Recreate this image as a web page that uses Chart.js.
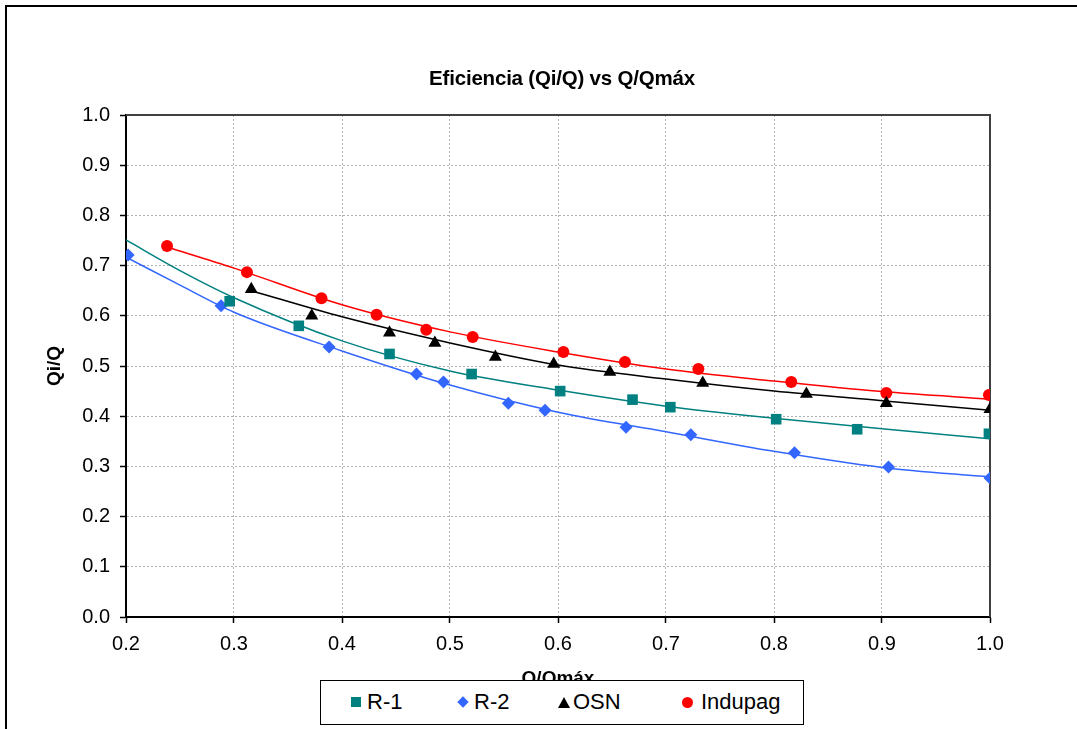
<!DOCTYPE html>
<html>
<head>
<meta charset="utf-8">
<title>Eficiencia (Qi/Q) vs Q/Qmáx</title>
<script src="https://cdn.jsdelivr.net/npm/chart.js@4.4.0/dist/chart.umd.min.js"></script>
<style>
  html, body { margin: 0; padding: 0; background: #fff; overflow: hidden; }
  #wrap { position: relative; width: 1077px; height: 729px; }
  #frame { position: absolute; left: 5px; top: 5px; width: 1200px; height: 1000px; border: 2px solid #000; box-sizing: border-box; }
  #chart { position: absolute; left: 0; top: 0; }
  #title {
    position: absolute; left: 0; top: 66px; width: 1124px; text-align: center;
    font-family: 'Liberation Sans', Arial, sans-serif; font-weight: bold; font-size: 20.5px; line-height: 24px;
    color: #000; letter-spacing: -0.2px;
  }
  #legend {
    position: absolute; left: 320px; top: 680px; width: 484px; height: 45px;
    box-sizing: border-box; border: 1.5px solid #000; background: #fff;
    font-family: 'Liberation Sans', Arial, sans-serif; font-size: 22px; color: #000;
  }
  .item { position: absolute; top: 0; height: 42px; display: flex; align-items: center; white-space: nowrap; }
  .mk { display: inline-block; margin-right: 6px; }
  .mk.rect { width: 10px; height: 10px; }
  .mk.rectRot { width: 8px; height: 8px; transform: rotate(45deg); margin-left: 2px; margin-right: 7px; }
  .mk.triangle { width: 0; height: 0; border-left: 6px solid transparent; border-right: 6px solid transparent; border-bottom: 11px solid #000; background: none !important; margin-right: 3px; }
  .mk.circle { width: 11px; height: 11px; border-radius: 50%; margin-right: 8px; }
</style>
</head>
<body>
<div id="wrap">
  <div id="frame"></div>
  <canvas id="chart" width="1077" height="729"></canvas>
  <div id="title"></div>
  <div id="legend"></div>
</div>
<script>
; (function () {
    'use strict'

    // ── Data ───────────────────────────────────────────────────────────────────
    const chartTitle = 'Eficiencia (Qi/Q) vs Q/Qmáx'
    const xTitle = 'Q/Qmáx'
    const yTitle = 'Qi/Q'
    const xTickValues = [0.2, 0.3, 0.4, 0.5, 0.6, 0.7, 0.8, 0.9, 1.0]
    const yTickValues = [0.0, 0.1, 0.2, 0.3, 0.4, 0.5, 0.6, 0.7, 0.8, 0.9, 1.0]

    const seriesNames = ['R-1', 'R-2', 'OSN', 'Indupag']

    // measured points
    const r1X = [0.296, 0.360, 0.444, 0.520, 0.602, 0.669, 0.704, 0.802, 0.877, 0.999]
    const r1Y = [0.629, 0.580, 0.524, 0.484, 0.450, 0.433, 0.418, 0.394, 0.374, 0.365]

    const r2X = [0.202, 0.288, 0.388, 0.469, 0.494, 0.554, 0.588, 0.663, 0.723, 0.819, 0.906, 1.000]
    const r2Y = [0.721, 0.620, 0.538, 0.484, 0.468, 0.426, 0.412, 0.378, 0.363, 0.327, 0.299, 0.277]

    const osnX = [0.316, 0.372, 0.444, 0.486, 0.542, 0.596, 0.648, 0.734, 0.830, 0.904, 1.000]
    const osnY = [0.653, 0.600, 0.566, 0.546, 0.518, 0.504, 0.488, 0.466, 0.444, 0.426, 0.414]

    const indX = [0.238, 0.312, 0.381, 0.432, 0.478, 0.521, 0.605, 0.662, 0.730, 0.816, 0.904, 0.999]
    const indY = [0.739, 0.687, 0.635, 0.602, 0.572, 0.558, 0.528, 0.508, 0.494, 0.468, 0.446, 0.442]

    // trend lines
    const r1TrendX = [0.2, 0.25, 0.3, 0.4, 0.5, 0.6, 0.7, 0.8, 0.9, 1.0]
    const r1TrendY = [0.751, 0.690, 0.636, 0.550, 0.490, 0.452, 0.420, 0.396, 0.375, 0.355]

    const r2TrendX = [0.2, 0.25, 0.3, 0.4, 0.5, 0.6, 0.7, 0.8, 0.9, 1.0]
    const r2TrendY = [0.717, 0.661, 0.607, 0.530, 0.462, 0.408, 0.369, 0.330, 0.298, 0.279]

    const osnTrendX = [0.316, 0.4, 0.5, 0.6, 0.7, 0.8, 0.9, 1.0]
    const osnTrendY = [0.650, 0.598, 0.546, 0.502, 0.474, 0.450, 0.431, 0.412]

    const indTrendX = [0.238, 0.3, 0.4, 0.5, 0.6, 0.7, 0.8, 0.9, 1.0]
    const indTrendY = [0.737, 0.695, 0.622, 0.568, 0.528, 0.494, 0.470, 0.449, 0.434]

    // ── Styles ─────────────────────────────────────────────────────────────────
    const FONT = "'Liberation Sans', Arial, sans-serif"
    const seriesColors = ['#008080', '#3366ff', '#000000', '#ff0000']
    const seriesMarkers = ['rect', 'rectRot', 'triangle', 'circle']
    const markerRadius = [7.5, 6.5, 7.5, 6]
    const legendLeft = [30, 136, 237, 361]

    const pts = (xs, ys) => xs.map((x, i) => ({ x, y: ys[i] }))
    const pointSets = [pts(r1X, r1Y), pts(r2X, r2Y), pts(osnX, osnY), pts(indX, indY)]
    const trendSets = [pts(r1TrendX, r1TrendY), pts(r2TrendX, r2TrendY), pts(osnTrendX, osnTrendY), pts(indTrendX, indTrendY)]

    const datasets = []
    seriesNames.forEach((name, i) => {
        datasets.push({
            label: name,
            data: pointSets[i],
            showLine: false,
            pointStyle: seriesMarkers[i],
            pointRadius: markerRadius[i],
            pointBackgroundColor: seriesColors[i],
            pointBorderColor: seriesColors[i],
            pointBorderWidth: 0
        })
    })
    seriesNames.forEach((name, i) => {
        datasets.push({
            label: name + ' trend',
            data: trendSets[i],
            showLine: true,
            borderColor: seriesColors[i],
            borderWidth: 1.5,
            pointRadius: 0,
            cubicInterpolationMode: 'monotone'
        })
    })

    // ── Plot-area frame (top + right edges) ────────────────────────────────────
    const plotFrame = {
        id: 'plotFrame',
        beforeDatasetsDraw(chart) {
            const { ctx, chartArea: a } = chart
            ctx.save()
            ctx.strokeStyle = '#404040'
            ctx.lineWidth = 2
            ctx.beginPath()
            ctx.moveTo(a.left, a.top)
            ctx.lineTo(a.right, a.top)
            ctx.lineTo(a.right, a.bottom)
            ctx.stroke()
            ctx.restore()
        }
    }

    const tickFont = { family: FONT, size: 20 }
    const titleFont = { family: FONT, size: 19, weight: 'bold' }

    document.getElementById('title').textContent = chartTitle

    new Chart(document.getElementById('chart'), {
        type: 'scatter',
        data: { datasets },
        options: {
            responsive: false,
            animation: false,
            events: [],
            layout: { padding: { left: 40, right: 87, top: 115, bottom: 37 } },
            plugins: {
                legend: { display: false },
                tooltip: { enabled: false },
                title: { display: false }
            },
            scales: {
                x: {
                    type: 'linear',
                    min: 0.2, max: 1.0,
                    afterBuildTicks: s => { s.ticks = xTickValues.map(v => ({ value: v })) },
                    afterFit: s => { s.height = 75 },
                    grid: { color: '#b0b0b0', lineWidth: 1, tickColor: '#000', tickLength: 6, tickWidth: 1.5 },
                    border: { color: '#000', width: 2, dash: [2, 2] },
                    ticks: { color: '#000', font: tickFont, padding: 9, maxRotation: 0, callback: v => v.toFixed(1) },
                    title: { display: true, text: xTitle, color: '#000', font: titleFont, padding: { top: 0, bottom: 2 } }
                },
                y: {
                    type: 'linear',
                    min: 0, max: 1.0,
                    afterBuildTicks: s => { s.ticks = yTickValues.map(v => ({ value: v })) },
                    afterFit: s => { s.width = 86 },
                    grid: { color: '#b0b0b0', lineWidth: 1, tickColor: '#000', tickLength: 6, tickWidth: 1.5 },
                    border: { color: '#000', width: 2, dash: [2, 2] },
                    ticks: { color: '#000', font: tickFont, padding: 10, callback: v => v.toFixed(1) },
                    title: { display: true, text: yTitle, color: '#000', font: titleFont, padding: { top: 3, bottom: 0 } }
                }
            }
        },
        plugins: [plotFrame]
    })

    // ── HTML legend ────────────────────────────────────────────────────────────
    const legend = document.getElementById('legend')
    seriesNames.forEach((name, i) => {
        const item = document.createElement('div')
        item.className = 'item'
        item.style.left = legendLeft[i] + 'px'
        const mk = document.createElement('span')
        mk.className = 'mk ' + seriesMarkers[i]
        mk.style.background = seriesColors[i]
        const txt = document.createElement('span')
        txt.textContent = name
        item.appendChild(mk); item.appendChild(txt)
        legend.appendChild(item)
    })
})()
</script>
</body>
</html>
